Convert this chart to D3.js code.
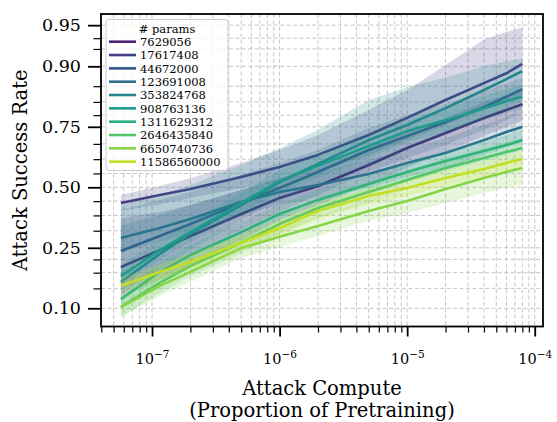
<!DOCTYPE html>
<html>
<head>
<meta charset="utf-8">
<style>
  body { margin: 0; background: #fff; }
  svg { display: block; }
  text { font-family: "DejaVu Serif", serif; fill: #000; }
</style>
</head>
<body>
<svg id="chart" width="557" height="422"></svg>
<script src="https://d3js.org/d3.v7.min.js"></script>
<script>
// model sizes (legend)
var params = ["7629056", "17617408", "44672000", "123691008", "353824768",
              "908763136", "1311629312", "2646435840", "6650740736", "11586560000"];

// attack compute, proportion of pretraining
var compute = [5.7e-8, 1.15e-7, 2e-7, 5e-7, 1e-6, 2e-6, 5e-6, 1e-5, 2e-5, 4e-5, 6e-5, 8e-5];

// mean attack success rate per model
var asrMean = [
  [0.190, 0.242, 0.292, 0.381, 0.452, 0.506, 0.600, 0.671, 0.728, 0.779, 0.803, 0.819],
  [0.429, 0.465, 0.492, 0.547, 0.591, 0.643, 0.721, 0.779, 0.830, 0.869, 0.888, 0.904],
  [0.239, 0.292, 0.339, 0.429, 0.497, 0.569, 0.663, 0.717, 0.766, 0.811, 0.838, 0.856],
  [0.285, 0.323, 0.360, 0.434, 0.479, 0.510, 0.560, 0.609, 0.651, 0.702, 0.732, 0.749],
  [0.152, 0.230, 0.300, 0.420, 0.524, 0.604, 0.702, 0.756, 0.808, 0.854, 0.877, 0.892],
  [0.166, 0.242, 0.307, 0.429, 0.529, 0.596, 0.679, 0.735, 0.772, 0.808, 0.827, 0.838],
  [0.116, 0.177, 0.226, 0.307, 0.381, 0.443, 0.515, 0.569, 0.617, 0.659, 0.683, 0.702],
  [0.102, 0.150, 0.193, 0.267, 0.339, 0.407, 0.479, 0.533, 0.587, 0.630, 0.655, 0.671],
  [0.102, 0.143, 0.177, 0.249, 0.289, 0.331, 0.394, 0.438, 0.492, 0.542, 0.569, 0.587],
  [0.143, 0.177, 0.205, 0.267, 0.323, 0.394, 0.461, 0.497, 0.542, 0.582, 0.609, 0.626]
];

// lower edge of the shaded interval
var asrLow = [
  [0.120, 0.157, 0.193, 0.277, 0.356, 0.420, 0.510, 0.587, 0.655, 0.717, 0.749, 0.772],
  [0.394, 0.424, 0.452, 0.497, 0.524, 0.569, 0.643, 0.702, 0.756, 0.803, 0.825, 0.842],
  [0.134, 0.182, 0.226, 0.315, 0.389, 0.465, 0.569, 0.630, 0.683, 0.739, 0.772, 0.797],
  [0.236, 0.270, 0.303, 0.377, 0.420, 0.452, 0.497, 0.547, 0.587, 0.643, 0.675, 0.695],
  [0.124, 0.182, 0.242, 0.356, 0.443, 0.510, 0.600, 0.663, 0.721, 0.779, 0.808, 0.830],
  [0.141, 0.211, 0.270, 0.385, 0.479, 0.547, 0.630, 0.695, 0.732, 0.772, 0.794, 0.806],
  [0.100, 0.152, 0.196, 0.270, 0.339, 0.398, 0.470, 0.524, 0.573, 0.617, 0.643, 0.663],
  [0.087, 0.128, 0.166, 0.232, 0.300, 0.364, 0.434, 0.488, 0.542, 0.587, 0.613, 0.630],
  [0.087, 0.122, 0.152, 0.217, 0.253, 0.292, 0.352, 0.385, 0.429, 0.474, 0.497, 0.510],
  [0.126, 0.157, 0.182, 0.239, 0.292, 0.360, 0.424, 0.461, 0.506, 0.547, 0.573, 0.591]
];

// upper edge of the shaded interval
var asrHigh = [
  [0.364, 0.389, 0.420, 0.488, 0.542, 0.587, 0.671, 0.732, 0.779, 0.825, 0.842, 0.858],
  [0.465, 0.506, 0.542, 0.609, 0.663, 0.721, 0.803, 0.854, 0.902, 0.936, 0.944, 0.948],
  [0.398, 0.443, 0.479, 0.556, 0.609, 0.663, 0.746, 0.788, 0.820, 0.850, 0.868, 0.880],
  [0.335, 0.377, 0.420, 0.488, 0.533, 0.569, 0.622, 0.663, 0.710, 0.756, 0.782, 0.797],
  [0.420, 0.465, 0.510, 0.600, 0.670, 0.740, 0.830, 0.860, 0.880, 0.900, 0.908, 0.912],
  [0.196, 0.277, 0.348, 0.474, 0.578, 0.643, 0.721, 0.772, 0.808, 0.840, 0.856, 0.865],
  [0.134, 0.205, 0.260, 0.348, 0.424, 0.488, 0.560, 0.613, 0.659, 0.699, 0.721, 0.739],
  [0.120, 0.174, 0.223, 0.303, 0.381, 0.452, 0.524, 0.578, 0.630, 0.671, 0.695, 0.710],
  [0.120, 0.166, 0.205, 0.285, 0.327, 0.373, 0.438, 0.483, 0.538, 0.587, 0.613, 0.630],
  [0.161, 0.199, 0.230, 0.296, 0.356, 0.429, 0.497, 0.533, 0.578, 0.617, 0.643, 0.659]
];

var yMajor = [0.10, 0.25, 0.50, 0.75, 0.90, 0.95];
var yMinor = [0.1375, 0.175, 0.2125, 0.3125, 0.375, 0.4375, 0.5625, 0.625, 0.6875,
              0.7875, 0.825, 0.8625, 0.925, 0.9375];
var xMajor = [1e-7, 1e-6, 1e-5, 1e-4];

var svg = d3.select("#chart"),
    margin = {top: 14, right: 14, bottom: 95.5, left: 101},
    width = +svg.attr("width") - margin.left - margin.right,
    height = +svg.attr("height") - margin.top - margin.bottom,
    g = svg.append("g").attr("transform", "translate(" + margin.left + "," + margin.top + ")");

function logit(p) { return Math.log(p / (1 - p)); }

var x = d3.scaleLog()
    .domain([Math.pow(10, -7.4), Math.pow(10, -3.935)])
    .range([0, width]);

// logit axis: a linear scale on log-odds
var yl = d3.scaleLinear()
    .domain([logit(0.0739), logit(0.9588)])
    .range([height, 0]);
function y(p) { return yl(logit(p)); }

var xMinor = x.ticks().filter(function(d) {
  return Math.abs(Math.log10(d) - Math.round(Math.log10(d))) > 1e-6;
});

var colors = params.map(function(d, i) { return d3.interpolateViridis((i + 1) / 11); });

// grid
var grid = g.append("g").attr("stroke", "#b8b8b8").attr("stroke-width", 0.8)
    .attr("stroke-dasharray", "4,2.4");
grid.selectAll(".gx").data(xMajor.concat(xMinor)).enter().append("line")
    .attr("x1", function(d) { return x(d); }).attr("x2", function(d) { return x(d); })
    .attr("y1", 0).attr("y2", height);
grid.selectAll(".gy").data(yMajor.concat(yMinor)).enter().append("line")
    .attr("y1", function(d) { return y(d); }).attr("y2", function(d) { return y(d); })
    .attr("x1", 0).attr("x2", width);

g.append("clipPath").attr("id", "clip")
  .append("rect").attr("width", width).attr("height", height);

var plot = g.append("g").attr("clip-path", "url(#clip)");

var band = d3.area()
    .x(function(d) { return x(d.x); })
    .y0(function(d) { return y(d.lo); })
    .y1(function(d) { return y(d.hi); });

var line = d3.line()
    .x(function(d) { return x(d.x); })
    .y(function(d) { return y(d.y); });

params.forEach(function(p, i) {
  var pts = compute.map(function(c, j) {
    return {x: c, y: asrMean[i][j], lo: asrLow[i][j], hi: asrHigh[i][j]};
  });
  plot.append("path")
      .datum(pts)
      .attr("fill", colors[i])
      .attr("fill-opacity", 0.2)
      .attr("d", band);
  plot.append("path")
      .datum(pts)
      .attr("fill", "none")
      .attr("stroke", colors[i])
      .attr("stroke-width", 2.6)
      .attr("stroke-linejoin", "round")
      .attr("stroke-linecap", "butt")
      .attr("d", line);
});

// x axis
var xAxis = g.append("g")
    .attr("transform", "translate(0," + height + ")")
    .call(d3.axisBottom(x).tickValues(xMajor).tickSize(10).tickPadding(6).tickFormat(""));
xAxis.select(".domain").remove();
xAxis.selectAll(".tick line").attr("stroke-width", 1.8);
xAxis.selectAll(".tick text").each(function(d) {
  var t = d3.select(this).attr("font-family", "DejaVu Sans").attr("font-size", 14.5).attr("dy", "1.45em");
  t.append("tspan").text("10");
  t.append("tspan").attr("dy", -6).attr("font-size", 10.5).text("\u2212" + Math.round(-Math.log10(d)));
});
var xMinorAxis = g.append("g")
    .attr("transform", "translate(0," + height + ")")
    .call(d3.axisBottom(x).tickValues(xMinor).tickSize(6).tickFormat(""));
xMinorAxis.select(".domain").remove();
xMinorAxis.selectAll(".tick line").attr("stroke-width", 1.2);

// y axis
var yAxis = g.append("g")
    .call(d3.axisLeft(yl).tickValues(yMajor.map(logit)).tickSize(13).tickPadding(7)
      .tickFormat(function(v) { return d3.format(".2f")(1 / (1 + Math.exp(-v))); }));
yAxis.select(".domain").remove();
yAxis.selectAll(".tick line").attr("stroke-width", 1.8);
yAxis.selectAll(".tick text").attr("font-family", "DejaVu Serif").attr("font-size", 17.5);
var yMinorAxis = g.append("g")
    .call(d3.axisLeft(yl).tickValues(yMinor.map(logit)).tickSize(7.5).tickFormat(""));
yMinorAxis.select(".domain").remove();
yMinorAxis.selectAll(".tick line").attr("stroke-width", 1.2);

// spines
g.append("rect")
    .attr("width", width).attr("height", height)
    .attr("fill", "none").attr("stroke", "#000").attr("stroke-width", 1.8);

// axis labels
g.append("text")
    .attr("x", width / 2).attr("y", height + 68)
    .attr("text-anchor", "middle").attr("font-size", 19.5)
    .text("Attack Compute");
g.append("text")
    .attr("x", width / 2).attr("y", height + 90)
    .attr("text-anchor", "middle").attr("font-size", 19.5)
    .text("(Proportion of Pretraining)");
svg.append("text")
    .attr("transform", "translate(27," + (margin.top + height / 2) + ") rotate(-90)")
    .attr("text-anchor", "middle").attr("font-size", 19.5)
    .text("Attack Success Rate");

// legend
var legend = svg.append("g").attr("transform", "translate(106,19.5)");
legend.append("rect")
    .attr("width", 122).attr("height", 151).attr("rx", 3)
    .attr("fill", "#fff").attr("fill-opacity", 0.8)
    .attr("stroke", "#cccccc").attr("stroke-width", 1);
legend.append("text")
    .attr("x", 61).attr("y", 13.5).attr("text-anchor", "middle")
    .attr("font-size", 11.5).text("# params");
var rows = legend.selectAll(".row").data(params).enter().append("g")
    .attr("transform", function(d, i) { return "translate(0," + (22.2 + i * 13.33) + ")"; });
rows.append("line")
    .attr("x1", 3).attr("x2", 30)
    .attr("stroke", function(d, i) { return colors[i]; })
    .attr("stroke-width", 2.6);
rows.append("text")
    .attr("x", 34).attr("y", 4.2)
    .attr("font-size", 11.5)
    .text(function(d) { return d; });
</script>
</body>
</html>
